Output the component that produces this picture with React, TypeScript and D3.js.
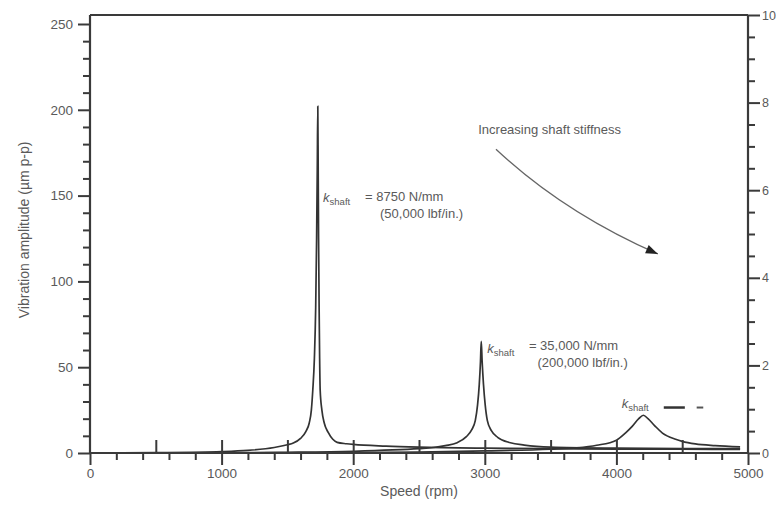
import React, { useEffect, useRef } from "react";
import * as d3 from "d3";

const W = 776;
const H = 514;

// Speed (rpm), amplitude (µm p-p)
const curveSoft: [number, number][] = [
  [0, 0], [500, 0.2], [1000, 0.8], [1200, 1.5], [1400, 3.2], [1500, 4.8], [1545, 5.8],
  [1600, 8.5], [1640, 12.5], [1666, 17.5], [1682, 25], [1693, 36.7], [1705, 55],
  [1715, 85], [1722, 125], [1727, 165], [1731, 202], [1734, 165], [1737, 125],
  [1741, 85], [1745, 55], [1749, 36.7], [1762, 25], [1780, 17.5], [1810, 12],
  [1845, 8], [1878, 6.2], [1950, 5.4], [2000, 5], [2250, 4], [2500, 3.4], [3000, 2.8],
  [3500, 2.5], [4000, 2.3], [4500, 2.2], [4940, 2.1],
];
const curveMid: [number, number][] = [
  [0, 0], [1000, 0.1], [1500, 0.4], [2000, 1], [2300, 1.8], [2500, 2.6], [2610, 3.2],
  [2700, 4.3], [2790, 6], [2860, 9.5], [2900, 13.5], [2928, 19], [2945, 28], [2958, 40],
  [2967, 53], [2973, 65], [2980, 53], [2990, 40], [3003, 28], [3019, 19], [3050, 13],
  [3100, 9], [3194, 6], [3300, 4.6], [3500, 3.4], [4000, 2.8], [4500, 2.6], [4940, 2.5],
];
const curveStiff: [number, number][] = [
  [0, 0], [2000, 0.2], [2500, 0.5], [3000, 1.2], [3500, 2.2], [3700, 3], [3850, 4.5],
  [4000, 7.5], [4068, 11.6], [4120, 15.5], [4170, 20], [4205, 22], [4240, 20],
  [4290, 16], [4350, 11.6], [4450, 8], [4500, 6.8], [4600, 5.3], [4750, 4.3], [4940, 3.6],
];
const series = [curveSoft, curveMid, curveStiff];

const xMajor = [0, 1000, 2000, 3000, 4000, 5000];
const xMinor = d3.range(0, 5001, 200).filter((v) => v % 1000 !== 0);
const xUp = [500, 1000, 1500, 2000, 2500, 3000, 3500, 4000, 4500];
const yLeftMajor = [0, 50, 100, 150, 200, 250];
const yLeftMinor = d3.range(0, 251, 10).filter((v) => v % 50 !== 0);
const yRightMajor = [0, 2, 4, 6, 8, 10];
const yRightMinor = d3.range(0, 10.01, 0.5).filter((v) => v % 2 !== 0);

const AX = "#3a3a3a";
const TXT = "#5a5a5a";
const FONT = "Liberation Sans, Arial, sans-serif";

export default function App() {
  const ref = useRef<SVGSVGElement | null>(null);

  useEffect(() => {
    const svg = d3.select(ref.current!);
    svg.selectAll("*").remove();

    const x = d3.scaleLinear().domain([0, 5000]).range([90, 748]);
    const yL = d3.scaleLinear().domain([0, 250]).range([453, 24]);
    const yR = d3.scaleLinear().domain([0, 10]).range([453, 15]);
    const bottom = yL(0);

    const style = (g: any, fs = 13.5) => {
      g.selectAll(".domain").remove();
      g.selectAll("line").attr("stroke", AX).attr("stroke-width", 2);
      g.selectAll("text")
        .attr("fill", TXT)
        .attr("font-family", FONT)
        .attr("font-size", fs);
    };

    // curves
    const line = d3
      .line<[number, number]>()
      .x((d) => x(d[0]))
      .y((d) => yL(d[1]))
      .curve(d3.curveMonotoneX);
    series.forEach((s) => {
      svg
        .append("path")
        .attr("d", line(s) as string)
        .attr("fill", "none")
        .attr("stroke", "#333")
        .attr("stroke-width", 1.7);
    });

    // frame lines
    svg.append("line").attr("x1", x(0)).attr("x2", x(0)).attr("y1", yR(10)).attr("y2", bottom)
      .attr("stroke", AX).attr("stroke-width", 2.2);
    svg.append("line").attr("x1", x(5000)).attr("x2", x(5000)).attr("y1", yR(10)).attr("y2", bottom)
      .attr("stroke", AX).attr("stroke-width", 2.2);
    svg.append("line").attr("x1", x(0)).attr("x2", x(5000)).attr("y1", yR(10)).attr("y2", yR(10))
      .attr("stroke", AX).attr("stroke-width", 2.2);
    svg.append("line").attr("x1", x(0)).attr("x2", x(5000)).attr("y1", bottom).attr("y2", bottom)
      .attr("stroke", AX).attr("stroke-width", 2.2);

    // x axis
    svg.append("g").attr("transform", `translate(0,${bottom})`)
      .call(d3.axisBottom(x).tickValues(xMinor).tickSize(7).tickFormat(() => ""))
      .call(style);
    svg.append("g").attr("transform", `translate(0,${bottom})`)
      .call(d3.axisBottom(x).tickValues(xMajor).tickSize(12).tickPadding(3).tickFormat(d3.format("d")))
      .call(style);
    svg.append("g").attr("transform", `translate(0,${bottom})`)
      .call(d3.axisTop(x).tickValues(xUp).tickSize(13).tickFormat(() => ""))
      .call(style);

    // left axis
    svg.append("g").attr("transform", `translate(${x(0)},0)`)
      .call(d3.axisLeft(yL).tickValues(yLeftMinor).tickSize(7).tickFormat(() => ""))
      .call(style);
    svg.append("g").attr("transform", `translate(${x(0)},0)`)
      .call(d3.axisLeft(yL).tickValues(yLeftMajor).tickSize(12).tickPadding(5).tickFormat(d3.format("d")))
      .call(style);

    // right axis
    svg.append("g").attr("transform", `translate(${x(5000)},0)`)
      .call(d3.axisRight(yR).tickValues(yRightMinor).tickSize(7).tickFormat(() => ""))
      .call(style);
    svg.append("g").attr("transform", `translate(${x(5000)},0)`)
      .call(d3.axisRight(yR).tickValues(yRightMajor).tickSize(12).tickPadding(2).tickFormat(d3.format("d")))
      .call((g: any) => style(g, 12.5));

    // axis titles
    svg.append("text").attr("x", x(2500)).attr("y", 496)
      .attr("text-anchor", "middle").attr("fill", TXT).attr("font-family", FONT).attr("font-size", 14)
      .text("Speed (rpm)");
    svg.append("text")
      .attr("transform", `translate(29,${yL(130)}) rotate(-90)`)
      .attr("text-anchor", "middle").attr("fill", TXT).attr("font-family", FONT).attr("font-size", 14)
      .text("Vibration amplitude (µm p-p)");

    // k_shaft labels
    const kLabel = (rpm: number, amp: number) => {
      const t = svg.append("text").attr("x", x(rpm)).attr("y", yL(amp))
        .attr("fill", TXT).attr("font-family", FONT).attr("font-size", 13);
      t.append("tspan").attr("font-style", "italic").text("k");
      t.append("tspan").attr("font-size", 9.5).attr("dy", 3).text("shaft");
    };
    const ann = (rpm: number, amp: number, s: string) =>
      svg.append("text").attr("x", x(rpm)).attr("y", yL(amp))
        .attr("fill", TXT).attr("font-family", FONT).attr("font-size", 13).text(s);

    kLabel(1771, 146);
    ann(2090, 147, "= 8750 N/mm");
    ann(2204, 137, "(50,000 lbf/in.)");

    kLabel(3019, 58);
    ann(3335, 60, "= 35,000 N/mm");
    ann(3400, 50, "(200,000 lbf/in.)");

    kLabel(4040, 26);
    svg.append("line").attr("x1", x(4360)).attr("x2", x(4520)).attr("y1", yL(26.5)).attr("y2", yL(26.5))
      .attr("stroke", "#333").attr("stroke-width", 2.5);
    svg.append("line").attr("x1", x(4610)).attr("x2", x(4660)).attr("y1", yL(26.5)).attr("y2", yL(26.5))
      .attr("stroke", "#555").attr("stroke-width", 2);

    ann(2950, 186, "Increasing shaft stiffness");

    // arrow
    const p0: [number, number] = [x(3085), yL(177)];
    const c: [number, number] = [x(3600), yL(140)];
    const p1: [number, number] = [x(4315), yL(116)];
    svg.append("path")
      .attr("d", `M${p0[0]},${p0[1]} Q${c[0]},${c[1]} ${p1[0]},${p1[1]}`)
      .attr("fill", "none").attr("stroke", "#666").attr("stroke-width", 1.3);
    const ang = Math.atan2(p1[1] - c[1], p1[0] - c[0]);
    const L = 12, Wd = 4.5;
    const bx = p1[0] - L * Math.cos(ang), by = p1[1] - L * Math.sin(ang);
    const pts = [
      [p1[0], p1[1]],
      [bx + Wd * Math.sin(ang), by - Wd * Math.cos(ang)],
      [bx - Wd * Math.sin(ang), by + Wd * Math.cos(ang)],
    ];
    svg.append("polygon").attr("points", pts.map((p) => p.join(",")).join(" ")).attr("fill", "#222");
  }, []);

  return (
    <svg
      ref={ref}
      width={W}
      height={H}
      style={{ position: "absolute", left: 0, top: 0, background: "#fff" }}
    />
  );
}
